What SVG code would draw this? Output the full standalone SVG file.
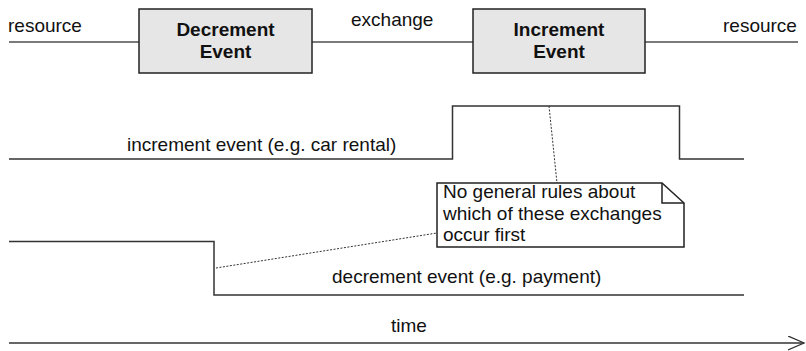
<svg xmlns="http://www.w3.org/2000/svg" width="806" height="351" viewBox="0 0 806 351">
  <defs>
    <style>
      .lbl { font-family: "Liberation Sans", Arial, sans-serif; font-size: 19px; fill: #111; }
      .bold { font-weight: bold; text-anchor: middle; }
      .box { fill: #e6e6e6; stroke: #222; stroke-width: 1.5; }
      .flow { stroke: #7a7a7a; stroke-width: 2; fill: none; }
      .signal { stroke: #333; stroke-width: 1.5; fill: none; }
      .dotted { stroke: #333; stroke-width: 1; stroke-dasharray: 2 1.5; fill: none; }
      .note { fill: #fff; stroke: #222; stroke-width: 1.5; }
    </style>
    <marker id="openArrow" markerWidth="18" markerHeight="16" refX="16" refY="7" orient="auto" markerUnits="userSpaceOnUse">
      <path d="M0,0 L16,7 L0,14" fill="none" stroke="#333" stroke-width="1.3"/>
    </marker>
  </defs>

  <rect width="806" height="351" fill="#fff"/>

  <!-- connectors: resource flow and exchange -->
  <g id="connectors">
    <line class="flow" x1="9" y1="42" x2="139" y2="42"/>
    <line class="flow" x1="312" y1="42" x2="473" y2="42"/>
    <line class="flow" x1="645" y1="42" x2="798" y2="42"/>
    <text class="lbl" x="8" y="32">resource</text>
    <text class="lbl" x="351" y="26">exchange</text>
    <text class="lbl" x="723" y="32">resource</text>
  </g>

  <g id="decrement-event">
    <rect class="box" x="139" y="9" width="173" height="64"/>
    <text class="lbl bold" x="225.5" y="36">Decrement</text>
    <text class="lbl bold" x="225.5" y="58">Event</text>
  </g>

  <g id="increment-event">
    <rect class="box" x="473" y="9" width="172" height="64"/>
    <text class="lbl bold" x="559" y="36">Increment</text>
    <text class="lbl bold" x="559" y="58">Event</text>
  </g>

  <!-- timing signals -->
  <g id="increment-signal">
    <polyline class="signal" points="9,159 452.5,159 452.5,106 679.5,106 679.5,159 744,159"/>
    <text class="lbl" x="127" y="150.5">increment event (e.g. car rental)</text>
  </g>

  <g id="decrement-signal">
    <polyline class="signal" points="9,241.5 214,241.5 214,295 744,295"/>
    <text class="lbl" x="332" y="283">decrement event (e.g. payment)</text>
  </g>

  <!-- note with folded corner -->
  <g id="note">
    <line class="dotted" x1="549" y1="106" x2="557" y2="183"/>
    <line class="dotted" x1="216" y1="268" x2="437" y2="233"/>
    <path class="note" d="M437,183 L662,183 L684,203 L684,247 L437,247 Z"/>
    <path d="M662,183 L662,203 L684,203" fill="none" stroke="#222" stroke-width="1.5"/>
    <text class="lbl" x="443" y="198">No general rules about</text>
    <text class="lbl" x="443" y="220">which of these exchanges</text>
    <text class="lbl" x="443" y="241">occur first</text>
  </g>

  <!-- time axis -->
  <g id="time-axis">
    <line class="signal" x1="9" y1="343" x2="804" y2="343" marker-end="url(#openArrow)"/>
    <text class="lbl" x="391" y="332">time</text>
  </g>
</svg>
